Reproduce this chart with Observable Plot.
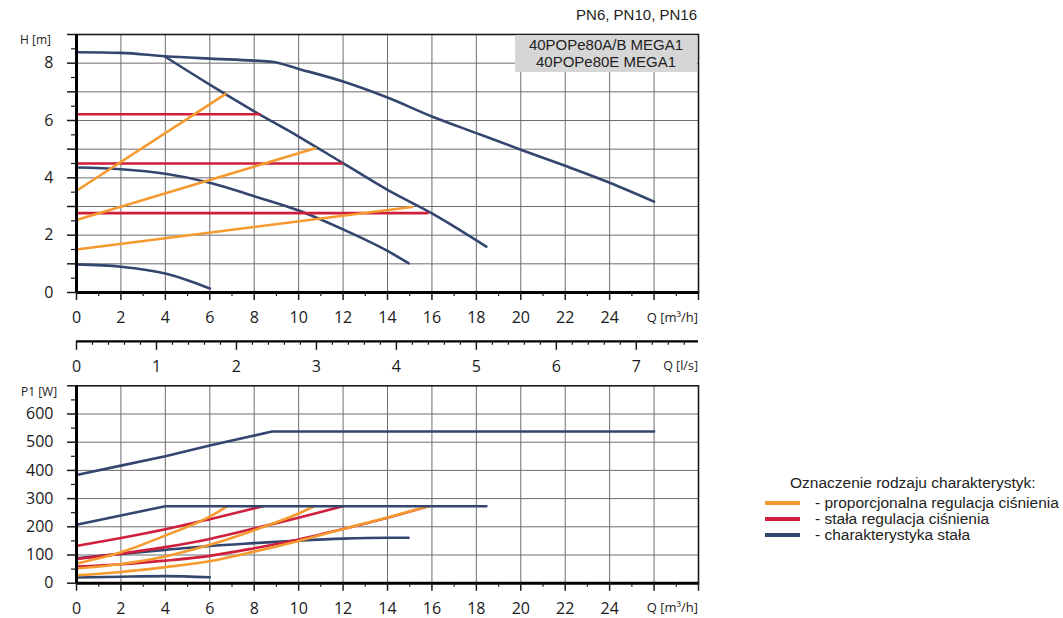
<!DOCTYPE html>
<html><head><meta charset="utf-8">
<script src="https://cdn.jsdelivr.net/npm/d3@7"></script>
<script src="https://cdn.jsdelivr.net/npm/@observablehq/plot@0.6"></script>
<style>
body{margin:0;background:#fff;}
#wrap{position:relative;width:1063px;height:618px;overflow:hidden;font-family:"Liberation Sans",Arial,sans-serif;color:#222;}
.abs{position:absolute;white-space:nowrap;}
.ax{font-family:"Open Sans",sans-serif;color:#222;}
</style></head><body><div id="wrap"></div>
<script>
// ---- tick labels ----
const qTicks = [0,2,4,6,8,10,12,14,16,18,20,22,24];
const lsTicks = [0,1,2,3,4,5,6,7];
const hTicks = [0,2,4,6,8];
const pTicks = [0,100,200,300,400,500,600];

// ---- categories ----
const types = ["proporcjonalna", "stała", "charakterystyka"];
const typeColors = ["#f59a2e", "#cf1f3d", "#34466f"];
const legendLabels = ["- proporcjonalna regulacja ciśnienia", "- stała regulacja ciśnienia", "- charakterystyka stała"];

// ---- H(Q) curves [Q m3/h, H m] ----
const hConst1 = [[0,8.38],[2,8.36],[4,8.24],[6,8.16],[8,8.09],[8.8,8.05],[10,7.8],[12,7.36],[14,6.8],[16,6.14],[18,5.56],[20,4.98],[22,4.42],[24,3.83],[26,3.17]];
const hConst2 = [[4,8.22],[6,7.25],[8,6.32],[10,5.44],[12,4.51],[14,3.58],[16,2.76],[18.45,1.6]];
const hConst3 = [[0,4.36],[2,4.3],[4,4.14],[6,3.83],[8,3.36],[10,2.86],[12,2.2],[14,1.45],[14.95,1.02]];
const hConst4 = [[0,0.98],[2,0.9],[4,0.66],[5,0.43],[6,0.14]];
const hPress1 = [[0,6.22],[8.25,6.22]];
const hPress2 = [[0,4.5],[11.95,4.5]];
const hPress3 = [[0,2.77],[15.8,2.77]];
const hProp1 = [[0,3.55],[6.7,6.92]];
const hProp2 = [[0,2.53],[10.75,5.03]];
const hProp3 = [[0,1.5],[15.1,2.98]];

// ---- P1(Q) curves [Q m3/h, P1 W] ----
const pConst1 = [[0,384],[2,417],[4,450],[6,488],[8.8,538],[26,538]];
const pConst2 = [[0,207],[4,273],[18.45,273]];
const pConst3 = [[0,88],[2,104],[4,118],[6,132],[8,142],[10,151],[12,158],[14,161],[14.95,161]];
const pConst4 = [[0,20],[2,23],[4,25],[6,21]];
const pPress1 = [[0,132],[2,160],[4,191],[6,227],[8.4,273]];
const pPress2 = [[0,86],[2,105],[4,128],[6,157],[8,194],[10,232],[12,273]];
const pPress3 = [[0,59],[2,67],[4,80],[6,97],[8,124],[10,155],[12,192],[14,232],[15.85,273]];
const pProp1 = [[0,70],[2,110],[4,169],[6,236],[6.8,273]];
const pProp2 = [[0,52],[2,68],[4,95],[6,136],[8,188],[10,247],[10.7,273]];
const pProp3 = [[0,28],[2,40],[4,57],[6,78],[8,112],[10,150],[12,192],[14,233],[15.85,273]];

function table(list){
  const rows=[];
  list.forEach(([id,type,smooth,pts])=>pts.forEach(([x,y])=>rows.push({id,type,smooth,x,y})));
  return rows;
}
const C="charakterystyka", S="stała", P="proporcjonalna";
const hRows = table([
  ["h1",C,true,hConst1],["h2",C,true,hConst2],["h3",C,true,hConst3],["h4",C,true,hConst4],
  ["r1",S,false,hPress1],["r2",S,false,hPress2],["r3",S,false,hPress3],
  ["o1",P,false,hProp1],["o2",P,false,hProp2],["o3",P,false,hProp3]
]);
const pRows = table([
  ["h1",C,false,pConst1],["h2",C,false,pConst2],["h3",C,true,pConst3],["h4",C,true,pConst4],
  ["r1",S,true,pPress1],["r2",S,true,pPress2],["r3",S,true,pPress3],
  ["o1",P,true,pProp1],["o2",P,true,pProp2],["o3",P,true,pProp3]
]);

const QMAX = 28;
const style = {fontFamily:"'Open Sans', sans-serif", fontSize:"16px", color:"#1a1a1a", background:"transparent", overflow:"visible"};
const gridStyle = {stroke:"#6e6e6e", strokeOpacity:1, strokeWidth:1};
const color = {domain:types, range:typeColors};

function lines(rows){
  return [
    Plot.line(rows.filter(d=>d.smooth), {x:"x", y:"y", z:"id", stroke:"type", strokeWidth:2.6, curve:"monotone-x"}),
    Plot.line(rows.filter(d=>!d.smooth), {x:"x", y:"y", z:"id", stroke:"type", strokeWidth:2.6, curve:"linear"})
  ];
}
function qAxes(){
  return [
    Plot.axisX(d3.range(0,QMAX+1,2), {tickSize:8, text:null, label:null, strokeWidth:1.5}),
    Plot.axisX(d3.range(1,QMAX,2), {tickSize:4, text:null, label:null, strokeWidth:1.2}),
    Plot.axisX(qTicks, {tickSize:0, tickPadding:19, label:null})
  ];
}

const wrap = document.getElementById("wrap");
function place(el, top){ el.style.position="absolute"; el.style.left="0px"; el.style.top=top+"px"; wrap.appendChild(el); }

// ---- top: H ----
const topPlot = Plot.plot({
  width:720, height:330, marginLeft:76, marginRight:22, marginTop:34, marginBottom:38,
  x:{domain:[0,QMAX], label:null}, y:{domain:[0,9], label:null}, color, style,
  marks:[
    Plot.gridX(d3.range(2,QMAX,2), gridStyle),
    Plot.gridY(d3.range(1,9), gridStyle),
    ...lines(hRows),
    Plot.frame({stroke:"#1a1a1a", strokeWidth:1.6}),
    Plot.ruleX([0], {stroke:"#000", strokeWidth:3}),
    Plot.ruleY([0], {stroke:"#000", strokeWidth:3}),
    ...qAxes(),
    Plot.axisY(d3.range(0,10,1), {tickSize:9, text:null, label:null, strokeWidth:1.5}),
    Plot.axisY(d3.range(0.5,9,1), {tickSize:5, text:null, label:null, strokeWidth:1.2}),
    Plot.axisY(hTicks, {tickSize:0, tickPadding:23, label:null})
  ]
});
place(topPlot, 0);

// ---- middle: Q l/s ----
const midPlot = Plot.plot({
  width:720, height:50, marginLeft:76, marginRight:22, marginTop:10.7, marginBottom:39.2,
  x:{domain:[0,QMAX/3.6], label:null}, y:{domain:[0,1], axis:null, label:null}, style,
  marks:[
    Plot.ruleY([0], {stroke:"#000", strokeWidth:2.2}),
    Plot.axisX(lsTicks, {tickSize:9, text:null, label:null, strokeWidth:1.5}),
    Plot.axisX(d3.range(0,QMAX/3.6,0.2).filter(v=>Math.abs(v-Math.round(v))>1e-6), {tickSize:4, text:null, label:null, strokeWidth:1.2}),
    Plot.axisX(lsTicks, {tickSize:0, tickPadding:19, label:null})
  ]
});
place(midPlot, 330);

// ---- bottom: P1 ----
const botPlot = Plot.plot({
  width:720, height:238, marginLeft:76, marginRight:22, marginTop:5.3, marginBottom:35.3,
  x:{domain:[0,QMAX], label:null}, y:{domain:[0,700], label:null}, color, style,
  marks:[
    Plot.gridX(d3.range(2,QMAX,2), gridStyle),
    Plot.gridY(d3.range(100,700,100), gridStyle),
    ...lines(pRows),
    Plot.frame({stroke:"#1a1a1a", strokeWidth:1.6}),
    Plot.ruleX([0], {stroke:"#000", strokeWidth:3}),
    Plot.ruleY([0], {stroke:"#000", strokeWidth:3}),
    ...qAxes(),
    Plot.axisY(d3.range(0,800,100), {tickSize:9, text:null, label:null, strokeWidth:1.5}),
    Plot.axisY(d3.range(50,700,100), {tickSize:5, text:null, label:null, strokeWidth:1.2}),
    Plot.axisY(pTicks, {tickSize:0, tickPadding:23, label:null})
  ]
});
place(botPlot, 380);

// ---- texts ----
function addText(txt, css, cls){
  const d=document.createElement("div"); d.className="abs "+(cls||""); d.textContent=txt;
  Object.assign(d.style, css); wrap.appendChild(d); return d;
}
addText("PN6, PN10, PN16", {right:(1063-697)+"px", top:"6px", fontSize:"15px"});
const box=document.createElement("div");
Object.assign(box.style,{position:"absolute", left:"515px", top:"35px", width:"182px", height:"37px", background:"#d6d6d6", fontSize:"15px", lineHeight:"16.7px", textAlign:"center", paddingTop:"2px", boxSizing:"border-box"});
box.innerHTML="40POPe80A/B MEGA1<br>40POPe80E MEGA1";
wrap.appendChild(box);

addText("H [m]", {left:"20px", top:"31px", fontSize:"12px"}, "ax");
addText("P1 [W]", {left:"21px", top:"383px", fontSize:"12px"}, "ax");
addText("Q [m³/h]", {right:(1063-698)+"px", top:"308px", fontSize:"13px"}, "ax");
addText("Q [l/s]", {right:(1063-698)+"px", top:"357px", fontSize:"12.5px"}, "ax");
addText("Q [m³/h]", {right:(1063-698)+"px", top:"598px", fontSize:"13px"}, "ax");

// ---- legend ----
addText("Oznaczenie rodzaju charakterystyk:", {left:"790px", top:"474px", fontSize:"15.5px"});
types.forEach((t,i)=>{
  const y = 503 + i*16;
  const sw=document.createElement("div");
  Object.assign(sw.style,{position:"absolute", left:"765px", top:(y-2)+"px", width:"35px", height:"4px", background:typeColors[i]});
  wrap.appendChild(sw);
  addText(legendLabels[i], {left:"815px", top:(y-9)+"px", fontSize:"15.5px"});
});
</script></body></html>
